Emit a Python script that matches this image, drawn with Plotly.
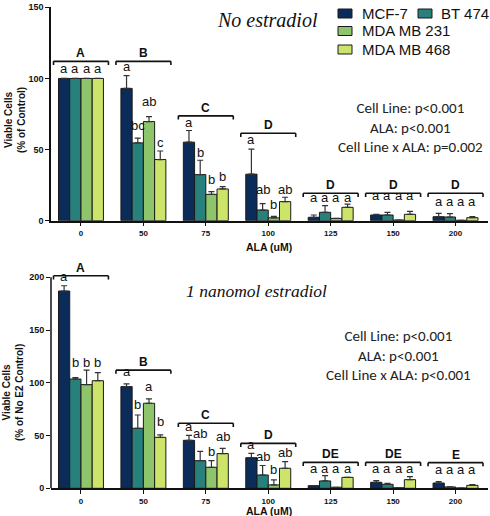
import plotly.graph_objects as go

# ---------------- data ----------------
categories = ["0", "50", "75", "100", "125", "150", "200"]
series = ["MCF-7", "BT 474", "MDA MB 231", "MDA MB 468"]

top_mcf7 = [100, 93, 55.2, 32.7, 2.4, 4.0, 2.8]
top_bt474 = [100, 54.7, 32.4, 7.5, 5.9, 4.0, 2.6]
top_mda231 = [100, 69.7, 18.5, 2.0, 1.6, 0.5, 0.3]
top_mda468 = [100, 43, 22.3, 13.4, 9.4, 4.5, 2.1]
top_mcf7_err = [0, 9, 8.2, 17.6, 1.6, 0.5, 2.4]
top_bt474_err = [0, 3.3, 10.1, 4.5, 4.7, 1.9, 2.4]
top_mda231_err = [0, 3.5, 1.9, 1.0, 0, 0, 0]
top_mda468_err = [0, 6, 1.7, 3.1, 2.3, 2.1, 0.8]

bot_mcf7 = [187, 96.4, 45.5, 29, 2.5, 5.7, 5.0]
bot_bt474 = [103.6, 56.9, 26.2, 12.6, 7.0, 3.8, 1.3]
bot_mda231 = [98.3, 80.6, 19.9, 3.2, 1.0, 0.5, 0.3]
bot_mda468 = [102, 48.3, 32.9, 19, 10.4, 8.2, 2.8]
bot_mcf7_err = [5, 2.5, 4.7, 4.2, 0, 1.6, 1.3]
bot_bt474_err = [1.4, 12.6, 8.8, 9, 5, 0.9, 0]
bot_mda231_err = [13.7, 4.1, 6.3, 4.7, 0, 0, 0]
bot_mda468_err = [7.6, 2.3, 5.0, 6.3, 0, 2.8, 0.7]

top_letters = [["a", "a", "a", "a"], ["a", "bc", "ab", "c"], ["a", "b", "b", "b"],
               ["a", "ab", "b", "ab"], ["a", "a", "a", "a"], ["a", "a", "a", "a"],
               ["a", "a", "a", "a"]]
bot_letters = [["a", "b", "b", "b"], ["a", "b", "a", "b"], ["a", "ab", "b", "ab"],
               ["a", "ab", "b", "ab"], ["a", "a", "a", "a"], ["a", "a", "a", "a"],
               ["a", "a", "a", "a"]]
top_groups = ["A", "B", "C", "D", "D", "D", "D"]
bot_groups = ["A", "B", "C", "D", "DE", "DE", "E"]

top_stats = ["Cell Line: p<0.001", "ALA: p<0.001", "Cell Line x ALA: p=0.002"]
bot_stats = ["Cell Line: p<0.001", "ALA: p<0.001", "Cell Line x ALA: p<0.001"]

# ---------------- style / layout config ----------------
colors = ["#0b2b58", "#27807c", "#8ec46a", "#cde46b"]
W, H = 490, 516
ML, MR = 51, 2

# letter-row levels (value units) for the small letters above bars
top_label_levels = [[102.6] * 4, [104.2, 62.7, 79.9, 51], [65, 44, 25, 27],
                    [52.6, 18, 7.5, 18], [12.2] * 4, [13.4] * 4, [9.4] * 4]
bot_label_levels = [[195, 113.7, 113.7, 113.7], [104.8, 74.2, 91, 57.5],
                    [53, 46.7, 29.4, 43.6], [36.3, 24, 11.7, 28.4],
                    [13.3] * 4, [13.3] * 4, [11.7] * 4]
top_bracket_levels = [112, 112, 73.7, 61.5, 19.3, 19.3, 19.3]
bot_bracket_levels = [201.5, 112, 61.6, 42.6, 24.6, 24.6, 24.3]


def pxx(x):
    return (x - ML) / (W - ML - MR)


def pyy(y):
    return 1 - y / H


top_vals = [top_mcf7, top_bt474, top_mda231, top_mda468]
top_errs = [top_mcf7_err, top_bt474_err, top_mda231_err, top_mda468_err]
bot_vals = [bot_mcf7, bot_bt474, bot_mda231, bot_mda468]
bot_errs = [bot_mcf7_err, bot_bt474_err, bot_mda231_err, bot_mda468_err]

fig = go.Figure()
for panel, (vals, errs) in enumerate([(top_vals, top_errs), (bot_vals, bot_errs)]):
    xa = "x" if panel == 0 else "x2"
    ya = "y" if panel == 0 else "y2"
    for i, name in enumerate(series):
        fig.add_trace(go.Bar(
            x=categories, y=vals[i], name=name, xaxis=xa, yaxis=ya,
            marker=dict(color=colors[i], line=dict(color="#1a1a1a", width=1)),
            error_y=dict(type="data", symmetric=False, array=errs[i],
                         arrayminus=[0] * len(errs[i]), color="#333333",
                         thickness=1.2, width=3),
            showlegend=False,
        ))

bargap = 0.28
bw = (1 - bargap) / 4
offsets = [(-1.5 + k) * bw for k in range(4)]

annotations = []
shapes = []
label_font = dict(family="Liberation Sans, Arial", size=13, color="#111111")
group_font = dict(family="Liberation Sans, Arial", size=12, color="#111111", weight="bold")

for panel in range(2):
    xa = "x" if panel == 0 else "x2"
    ya = "y" if panel == 0 else "y2"
    letters = top_letters if panel == 0 else bot_letters
    levels = top_label_levels if panel == 0 else bot_label_levels
    groups = top_groups if panel == 0 else bot_groups
    blevels = top_bracket_levels if panel == 0 else bot_bracket_levels
    tick = 2.6 if panel == 0 else 3.5
    half = 0.44
    for g in range(len(categories)):
        for k in range(4):
            annotations.append(dict(
                x=g + offsets[k], y=levels[g][k], xref=xa, yref=ya,
                text=letters[g][k], showarrow=False, xanchor="center", yanchor="bottom",
                yshift=-3.5, font=label_font))
        yb = blevels[g]
        x0, x1 = g - half, g + half
        for (a, b, c, d) in [(x0, yb, x1, yb), (x0, yb, x0, yb - tick), (x1, yb, x1, yb - tick)]:
            shapes.append(dict(type="line", xref=xa, yref=ya, x0=a, y0=b, x1=c, y1=d,
                               line=dict(color="#111111", width=1.6)))
        annotations.append(dict(
            x=g, y=yb, xref=xa, yref=ya, text=groups[g], showarrow=False,
            xanchor="center", yanchor="bottom", yshift=-1, font=group_font))

# bottom y-axis line (0..200)
shapes.append(dict(type="line", xref="x2 domain", yref="y2", x0=0, x1=0, y0=0, y1=200,
                   line=dict(color="#111111", width=1.5)))


def paper_text(x, y, text, font, **kw):
    d = dict(x=pxx(x), y=pyy(y), xref="paper", yref="paper", text=text,
             showarrow=False, xanchor="center", yanchor="middle", font=font)
    d.update(kw)
    annotations.append(d)


# titles
paper_text(267, 20, "<i>No estradiol</i>",
           dict(family="Liberation Serif", size=20, color="#111111"))
paper_text(256, 291, "<i>1 nanomol estradiol</i>",
           dict(family="Liberation Serif", size=17.5, color="#111111"))

stat_font = dict(family="Carlito, Lato, Liberation Sans", size=15, color="#222222")
paper_text(410, 127.5, "<br>".join(top_stats), stat_font, align="center")
paper_text(398, 355.5, "<br>".join(bot_stats), stat_font, align="center")

# axis titles
axt_font = dict(family="Liberation Sans, Arial", size=10, color="#111111", weight="bold")
paper_text(15, 120, "Viable Cells<br>(% of Control)", axt_font, textangle=-90)
paper_text(13, 393, "Viable Cells<br>(% of No E2 Control)", axt_font, textangle=-90)
xt_font = dict(family="Liberation Sans, Arial", size=10.5, color="#111111", weight="bold")
paper_text(269, 247, "ALA (uM)", xt_font)
paper_text(269, 510.5, "ALA (uM)", xt_font)

# manual legend
leg_font = dict(family="Liberation Sans, Arial", size=15, color="#111111")
leg_items = [(0, 338, 13.5, 360), (1, 418, 13.5, 439), (2, 338, 31, 360), (3, 338, 49.5, 360)]
for idx, sx, cy, tx in leg_items:
    shapes.append(dict(type="rect", xref="paper", yref="paper",
                       x0=pxx(sx), x1=pxx(sx + 14), y0=pyy(cy + 4.5), y1=pyy(cy - 4.5),
                       fillcolor=colors[idx], line=dict(color="#1a1a1a", width=1)))
    paper_text(tx, cy, series[idx], leg_font, xanchor="left")

ytickfont = dict(family="Liberation Sans, Arial", size=9, color="#111111", weight="bold")
xtickfont = dict(family="Liberation Sans, Arial", size=8, color="#111111", weight="bold")
xcommon = dict(type="category", range=[-0.48, 6.52], showline=True, linecolor="#111111",
               linewidth=1.5, ticks="outside", ticklen=4, tickcolor="#111111",
               tickwidth=1.2, tickfont=xtickfont, showgrid=False, zeroline=False,
               domain=[0, 1], fixedrange=True)

fig.update_layout(
    width=W, height=H, margin=dict(l=ML, r=MR, t=0, b=0, autoexpand=False),
    paper_bgcolor="white", plot_bgcolor="white",
    barmode="group", bargap=bargap, bargroupgap=0,
    showlegend=False,
    xaxis=dict(**xcommon, anchor="y"),
    xaxis2=dict(**xcommon, anchor="y2"),
    yaxis=dict(range=[0, 150], domain=[pyy(220.7), pyy(7.3)], tickvals=[0, 50, 100, 150],
               showline=True, linecolor="#111111", linewidth=1.5, ticks="outside",
               ticklen=4, tickcolor="#111111", tickwidth=1.2, tickfont=ytickfont,
               showgrid=False, zeroline=False, anchor="x"),
    yaxis2=dict(range=[0, 204], domain=[pyy(488.3), pyy(273.1)],
                tickvals=[0, 50, 100, 150, 200], showline=False, ticks="outside",
                ticklen=4, tickcolor="#111111", tickwidth=1.2, tickfont=ytickfont,
                showgrid=False, zeroline=False, anchor="x2"),
    annotations=annotations, shapes=shapes,
)

fig.write_html("out.html", config={"displayModeBar": False},
               post_script="document.body.style.margin='0px';document.body.style.overflow='hidden';")
